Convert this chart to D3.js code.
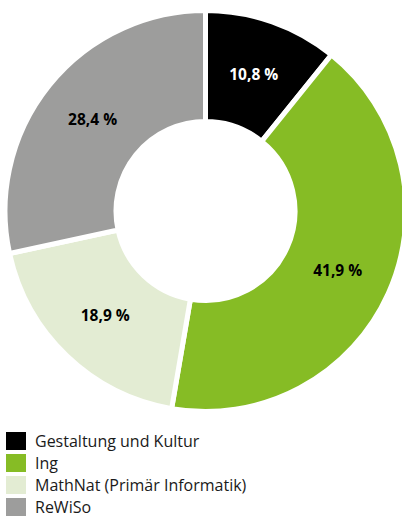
<!DOCTYPE html>
<html>
<head>
<meta charset="utf-8">
<script src="https://cdn.jsdelivr.net/npm/d3@7"></script>
<style>
  body { margin: 0; background: #fff; }
  svg { display: block; }
</style>
</head>
<body>
<div id="chart"></div>
<script>
// data
var categories = ["Gestaltung und Kultur", "Ing", "MathNat (Primär Informatik)", "ReWiSo"];
var shares = [10.8, 41.9, 18.9, 28.4];
var colors = ["#000000", "#86bc25", "#e3ecd3", "#9d9d9c"];
var labelColors = ["#ffffff", "#000000", "#000000", "#000000"];

var width = 402, height = 517;
var cx = 205.5, cy = 211, outerR = 200.5, innerR = 89.5;

var svg = d3.select("#chart")
  .append("svg")
    .attr("width", width)
    .attr("height", height);

var rows = categories.map(function(c, i) {
  return { name: c, value: shares[i], color: colors[i], label: labelColors[i] };
});

var pie = d3.pie()
  .sort(null)
  .value(function(d) { return d.value; });

var arc = d3.arc()
  .innerRadius(innerR)
  .outerRadius(outerR);

var g = svg.append("g")
  .attr("transform", "translate(" + cx + "," + cy + ")");

// slices, white stroke makes the gaps
g.selectAll("path")
  .data(pie(rows))
  .enter()
  .append("path")
    .attr("d", arc)
    .attr("fill", function(d) { return d.data.color; })
    .attr("stroke", "#fff")
    .attr("stroke-width", 5)
    .attr("stroke-linejoin", "miter");

// percent labels
g.selectAll("text")
  .data(pie(rows))
  .enter()
  .append("text")
    .attr("transform", function(d) { return "translate(" + arc.centroid(d) + ")"; })
    .attr("text-anchor", "middle")
    .attr("dy", "0.35em")
    .style("font-family", "'Open Sans', sans-serif")
    .style("font-weight", "bold")
    .style("font-size", "15.5px")
    .attr("fill", function(d) { return d.data.label; })
    .text(function(d) { return d3.format(".1f")(d.data.value).replace(".", ",") + " %"; });

// legend
var legend = svg.append("g")
  .attr("transform", "translate(6,432)");

var item = legend.selectAll("g")
  .data(rows)
  .enter()
  .append("g")
    .attr("transform", function(d, i) { return "translate(0," + (i * 22) + ")"; });

item.append("rect")
  .attr("width", 20)
  .attr("height", 18)
  .attr("fill", function(d) { return d.color; });

item.append("text")
  .attr("x", 29)
  .attr("y", 9)
  .attr("dy", "0.35em")
  .style("font-family", "'Open Sans', sans-serif")
  .style("font-size", "16px")
  .attr("fill", "#1a1a1a")
  .text(function(d) { return d.name; });
</script>
</body>
</html>
